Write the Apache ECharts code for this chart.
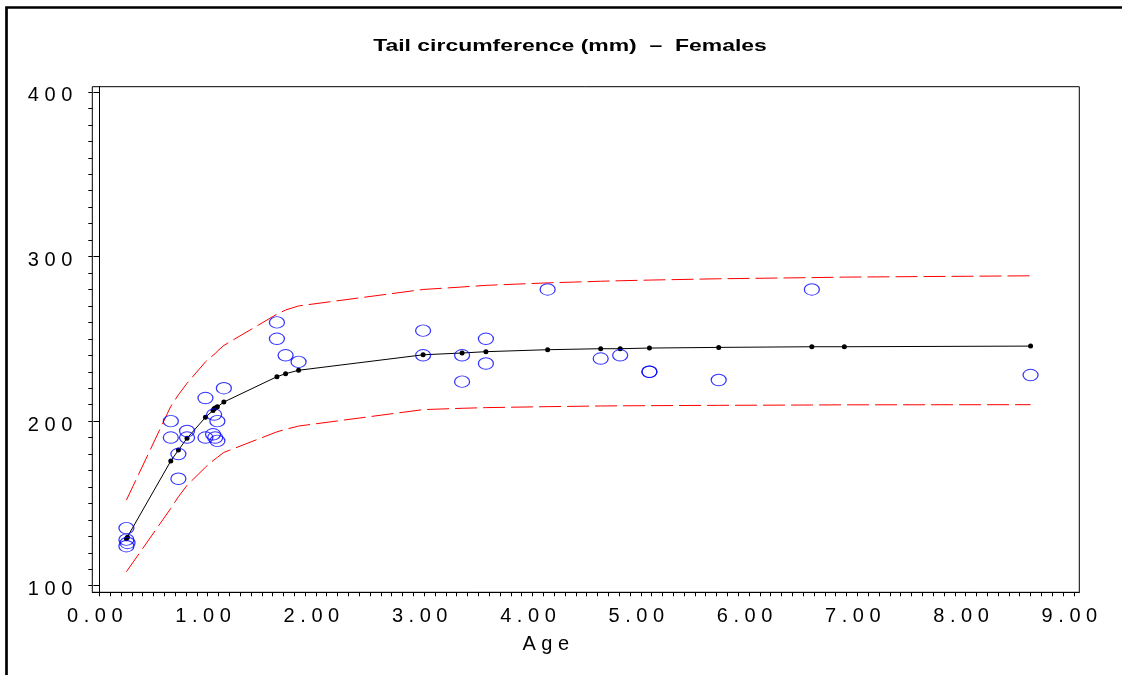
<!DOCTYPE html>
<html>
<head>
<meta charset="utf-8">
<script src="https://cdn.jsdelivr.net/npm/echarts@6/dist/echarts.min.js"></script>
<style>
  html, body { margin: 0; padding: 0; background: #ffffff; }
  #chart { width: 1122px; height: 675px; }
</style>
</head>
<body>
<div id="chart"></div>
<script>
// Observed tail circumference (mm) by age, females
const obsAge  = [0.25, 0.25, 0.26, 0.25, 0.66, 0.66, 0.73, 0.73, 0.81, 0.81, 0.98, 0.98,
                 1.06, 1.09, 1.05, 1.07, 1.09, 1.15, 1.64, 1.64, 1.72, 1.84, 2.99, 2.99,
                 3.35, 3.35, 3.57, 3.57, 4.14, 4.63, 4.81, 5.08, 5.08, 5.72, 6.58, 8.60];
const obsTail = [135, 128, 126, 124, 200, 190, 180, 165, 194, 190, 214, 190,
                 204, 200, 192, 190, 188, 220, 260, 250, 240, 236, 255, 240,
                 240, 224, 250, 235, 280, 238, 240, 230, 230, 225, 280, 228];

// Fitted growth curve with its upper and lower limits, at each observed age
const fitAge   = [0.25, 0.26, 0.66, 0.73, 0.81, 0.98, 1.05, 1.06, 1.07, 1.09, 1.15, 1.64, 1.72,
                  1.84, 2.99, 3.35, 3.57, 4.14, 4.63, 4.81, 5.08, 5.72, 6.58, 6.88, 8.60];
const fitTail  = [128.6, 129.4, 175.8, 182.4, 189.6, 202.3, 206.5, 207.5, 208.0, 208.7, 211.6, 227.0, 228.8,
                  230.9, 240.3, 241.4, 242.2, 243.4, 244.0, 244.0, 244.4, 244.8, 245.2, 245.2, 245.6];
const upperLim = [152, 153, 209, 216, 223, 236, 240, 240.5, 241, 242.5, 246, 265, 267.5,
                  270, 280, 281.5, 282.5, 284, 285, 285.3, 285.7, 286.5, 287.2, 287.5, 288.3];
const lowerLim = [108.5, 109.5, 147, 154, 161, 172, 176, 176.5, 177, 178, 181, 193.5, 195,
                  197, 207, 207.8, 208.2, 208.8, 209.2, 209.3, 209.4, 209.6, 209.8, 209.9, 210];

// Axis tick labels
const xTickLabels = [0, 1, 2, 3, 4, 5, 6, 7, 8, 9];
const yTickLabels = [100, 200, 300, 400];

const xMinor = [];
for (let k = 0; k <= 90; k++) xMinor.push(k / 10);
const yMinor = [];
for (let v = 100; v <= 400; v += 10) yMinor.push(v);

const spaced = s => String(s).split('').join(' ');
const pairs = (xs, ys) => xs.map((x, i) => [x, ys[i]]);

const FONT = '"Liberation Sans", Arial, Helvetica, sans-serif';
const ellipse = 'path://M0,5 A5,5 0 1,1 10,5 A5,5 0 1,1 0,5 Z';

const chart = echarts.init(document.getElementById('chart'), null, { renderer: 'canvas' });

const dashStyle = { color: '#ff0000', width: 1, type: [22, 6] };

chart.setOption({
  animation: false,
  backgroundColor: '#ffffff',
  textStyle: { fontFamily: FONT },
  graphic: [
    {
      type: 'polyline',
      shape: { points: [[6.5, 675], [6.5, 7.5], [1122, 7.5]] },
      style: { stroke: '#000000', lineWidth: 2.7, fill: null }
    },
    {
      type: 'text',
      x: 570, y: 46,
      scaleX: 1.35,
      style: {
        text: 'Tail circumference (mm)  \u2013  Females',
        font: 'bold 17px ' + FONT,
        fill: '#000000',
        align: 'center',
        verticalAlign: 'middle'
      }
    }
  ],
  grid: {
    left: 92.3, right: 42.7, top: 86.7, bottom: 82.7,
    show: true, borderColor: '#000000', borderWidth: 1, backgroundColor: 'transparent'
  },
  xAxis: [{
    type: 'value', min: -0.065, max: 9.05, position: 'bottom',
    axisLine: { show: true, lineStyle: { color: '#000000', width: 1 } },
    axisTick: { show: true, length: 4, customValues: xMinor, lineStyle: { color: '#000000' } },
    axisLabel: {
      customValues: xTickLabels, color: '#000000', fontSize: 20, margin: 14,
      formatter: v => spaced(v.toFixed(2)), padding: [0, 9, 0, 0]
    },
    splitLine: { show: false },
    name: spaced('Age'), nameLocation: 'middle', nameGap: 42,
    nameTextStyle: { color: '#000000', fontSize: 20, padding: [0, 80, 0, 0] }
  }],
  yAxis: [{
    type: 'value', min: 96, max: 403.2, position: 'left',
    axisLine: { show: true, lineStyle: { color: '#000000', width: 1 } },
    axisTick: { show: true, length: 6, customValues: yTickLabels, lineStyle: { color: '#000000' } },
    axisLabel: { customValues: yTickLabels, color: '#000000', fontSize: 20, margin: 20,
                 verticalAlign: 'top', lineHeight: 8, formatter: v => spaced(v) },
    splitLine: { show: false }
  }, {
    type: 'value', min: 96, max: 403.2, position: 'left',
    axisLine: { show: false },
    axisTick: { show: true, length: 4, customValues: yMinor, lineStyle: { color: '#000000' } },
    axisLabel: { show: false },
    splitLine: { show: false }
  }],
  series: [
    {
      name: 'Upper', type: 'line', data: pairs(fitAge, upperLim),
      showSymbol: false, lineStyle: dashStyle, silent: true, z: 2
    },
    {
      name: 'Lower', type: 'line', data: pairs(fitAge, lowerLim),
      showSymbol: false, lineStyle: dashStyle, silent: true, z: 2
    },
    {
      name: 'Fitted', type: 'line', data: pairs(fitAge, fitTail),
      symbol: 'circle', symbolSize: 5, showAllSymbol: true,
      itemStyle: { color: '#000000' },
      lineStyle: { color: '#000000', width: 1 }, z: 3
    },
    {
      name: 'Observed', type: 'scatter', data: pairs(obsAge, obsTail),
      symbol: ellipse, symbolSize: [15, 11.5],
      itemStyle: { color: 'rgba(0,0,0,0)', borderColor: '#0000ff', borderWidth: 1.1 }, z: 4
    }
  ]
});
</script>
</body>
</html>
